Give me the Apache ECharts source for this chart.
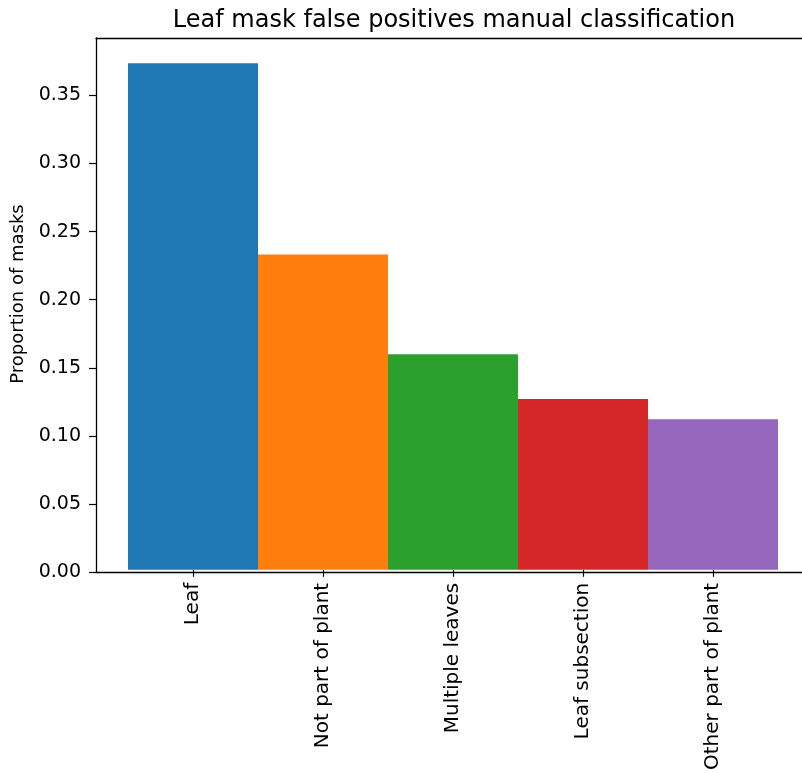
<!DOCTYPE html>
<html>
<head>
<meta charset="utf-8">
<script src="https://cdn.jsdelivr.net/npm/echarts@6/dist/echarts.min.js"></script>
<style>
  html, body { margin: 0; padding: 0; background: #fff; }
  #chart { width: 802px; height: 773px; }
</style>
</head>
<body>
<div id="chart"></div>
<script>
// data
var categories = ['Leaf', 'Not part of plant', 'Multiple leaves', 'Leaf subsection', 'Other part of plant']
var proportions = [0.3735, 0.2326, 0.1590, 0.1260, 0.1110]
var barColors = ['#1f77b4', '#ff7f0e', '#2ca02c', '#d62728', '#9467bd']
var yTicks = [0, 0.05, 0.1, 0.15, 0.2, 0.25, 0.3, 0.35]

var font = 'DejaVu Sans'
var yMax = Math.max.apply(null, proportions) * 1.05

var chart = echarts.init(document.getElementById('chart'), null, { renderer: 'canvas' })

var option = {
  animation: false,
  backgroundColor: '#fff',
  title: {
    text: 'Leaf mask false positives manual classification',
    left: 449,
    textAlign: 'center',
    top: 4,
    textStyle: { fontFamily: font, fontSize: 24, fontWeight: 'normal', color: '#000' }
  },
  grid: [
    // frame + y axis (axes box runs past the right edge of the picture)
    { left: 96, right: -9, top: 38, bottom: 201 },
    // bars: width-1 bars with matplotlib's 0.25 margin on each side
    { left: 128, width: 650, top: 38, bottom: 201 }
  ],
  xAxis: [
    {
      gridIndex: 0, type: 'value', min: 0, max: 1,
      axisLine: { show: true, lineStyle: { color: '#000', width: 1.3 } },
      axisTick: { show: false }, axisLabel: { show: false }, splitLine: { show: false }
    },
    {
      gridIndex: 0, type: 'value', position: 'top', min: 0, max: 1,
      axisLine: { show: true, lineStyle: { color: '#000', width: 1.3 } },
      axisTick: { show: false }, axisLabel: { show: false }, splitLine: { show: false }
    },
    {
      gridIndex: 1, type: 'category', data: categories,
      axisLine: { show: false },
      axisTick: { show: true, alignWithLabel: true, length: 7, lineStyle: { color: '#000', width: 1.2 } },
      axisLabel: { rotate: 90, margin: 13, fontFamily: font, fontSize: 20, color: '#000', interval: 0 }
    }
  ],
  yAxis: [
    {
      gridIndex: 0, type: 'value', min: 0, max: yMax, interval: 0.05,
      name: 'Proportion of masks', nameLocation: 'middle', nameGap: 66,
      nameTextStyle: { fontFamily: font, fontSize: 18, color: '#000', padding: [0, 0, 0, 22] },
      axisLine: { show: true, lineStyle: { color: '#000', width: 1.3 } },
      axisTick: { show: true, length: 7, lineStyle: { color: '#000', width: 1.2 } },
      axisLabel: {
        margin: 15, fontFamily: font, fontSize: 19, color: '#000',
        showMaxLabel: false,
        formatter: function (v) { return v.toFixed(2) }
      },
      splitLine: { show: false }
    },
    {
      gridIndex: 1, type: 'value', min: 0, max: yMax, show: false
    }
  ],
  series: [
    {
      type: 'bar',
      xAxisIndex: 2,
      yAxisIndex: 1,
      barWidth: '100%',
      data: proportions.map(function (v, i) {
        return { value: v, itemStyle: { color: barColors[i] } }
      })
    }
  ]
}

chart.setOption(option)
</script>
</body>
</html>
